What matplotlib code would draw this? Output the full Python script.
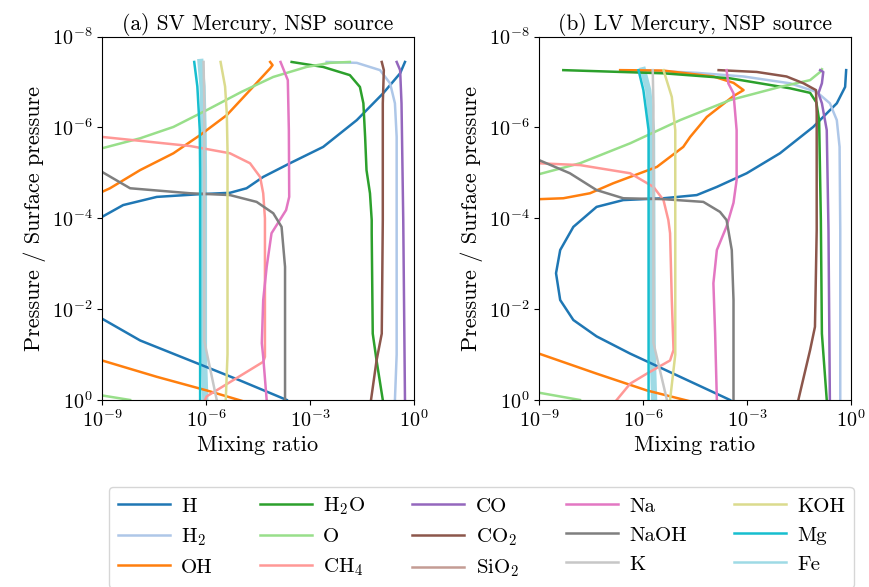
import numpy as np
import matplotlib
matplotlib.use('Agg')
import matplotlib.pyplot as plt
import matplotlib.ticker as ticker

plt.rcParams['font.family'] = 'cmr10'
plt.rcParams['mathtext.fontset'] = 'cm'
plt.rcParams['axes.formatter.use_mathtext'] = True
plt.rcParams['font.size'] = 14

# (log10 mixing ratio, log10 pressure); None = gap
SV_H = [(-3.67, 0.0), (-5.02, -0.43), (-6.46, -0.87), (-7.90, -1.31), (-9.0, -1.79), None,
        (-9.0, -4.03), (-8.39, -4.29), (-7.42, -4.47), (-6.17, -4.53), (-5.31, -4.56),
        (-4.83, -4.66), (-4.35, -4.91), (-3.58, -5.21), (-2.62, -5.57), (-1.65, -6.16),
        (-0.89, -6.75), (-0.40, -7.19), (-0.26, -7.44)]
SV_H2 = [(-2.52, -7.44), (-1.65, -7.42), (-0.98, -7.26), (-0.69, -6.97), (-0.55, -6.53),
         (-0.50, -5.79), (-0.50, -1.0), (-0.55, 0.0)]
SV_OH = [(-4.15, -7.44), (-4.08, -7.37), (-4.15, -7.30), (-4.73, -6.82), (-5.40, -6.27),
         (-6.17, -5.83), (-6.94, -5.43), (-7.90, -5.06), (-8.77, -4.66), (-9.0, -4.58), None,
         (-9.0, -0.87), (-7.42, -0.51), (-5.98, -0.21), (-4.92, 0.03)]
SV_H2O = [(-3.53, -7.44), (-2.62, -7.33), (-1.85, -7.15), (-1.56, -6.89), (-1.46, -6.53),
          (-1.41, -5.79), (-1.37, -5.06), (-1.27, -4.55), (-1.22, -3.96), (-1.22, -3.67),
          (-1.19, -1.46), (-1.08, -0.87), (-0.90, 0.0)]
SV_O = [(-1.85, -7.44), (-2.42, -7.42), (-3.10, -7.33), (-4.06, -7.11), (-4.98, -6.78),
        (-5.98, -6.38), (-6.94, -6.01), (-7.90, -5.76), (-9.0, -5.54), None,
        (-9.0, -0.10), (-8.19, 0.0)]
SV_CH4 = [(-9.0, -5.79), (-6.46, -5.59), (-5.31, -5.43), (-4.73, -5.21), (-4.44, -4.91),
          (-4.35, -4.55), (-4.30, -4.0), (-4.30, -0.95), (-4.35, -0.84), (-5.98, -0.08),
          (-6.03, 0.0)]
SV_CO = [(-0.50, -7.44), (-0.40, -7.26), (-0.36, -6.53), (-0.31, -3.96), (-0.26, 0.0)]
SV_CO2 = [(-0.93, -7.44), (-0.87, -7.26), (-0.90, -6.53), (-0.90, -3.96), (-0.93, -1.46),
          (-1.08, -0.87), (-1.24, 0.0)]
SV_SiO2 = []
SV_Na = [(-3.85, -7.44), (-3.64, -7.04), (-3.61, -5.94), (-3.60, -4.47), (-3.69, -4.18),
         (-4.11, -3.67), (-4.25, -2.93), (-4.35, -2.20), (-4.39, -1.25), (-4.35, -0.95),
         (-4.25, 0.0)]
SV_NaOH = [(-9.0, -5.02), (-8.19, -4.66), (-6.46, -4.55), (-5.31, -4.51), (-4.54, -4.36),
           (-4.06, -4.11), (-3.82, -3.81), (-3.72, -2.93), (-3.72, 0.0)]
SV_K = [(-6.07, -7.44), (-6.05, -6.5), (-6.05, -1.3), (-5.69, 0.0)]
SV_KOH = [(-5.58, -7.44), (-5.45, -6.9), (-5.40, -6.3), (-5.38, -5.5), (-5.38, -1.0),
          (-5.43, 0.0)]
SV_Mg = [(-6.34, -7.44), (-6.25, -6.9), (-6.18, -5.94), (-6.17, -5.0), (-6.17, 0.0)]
SV_Fe = [(-6.16, -7.44), (-6.10, -6.9), (-6.07, -5.94), (-6.06, -5.0), (-6.06, -1.0),
         (-6.02, 0.0)]

LV_H = [(-3.49, 0.0), (-4.93, -0.51), (-6.37, -1.02), (-7.34, -1.40), (-8.01, -1.76),
        (-8.39, -2.20), (-8.51, -2.79), (-8.39, -3.30), (-8.01, -3.81), (-7.34, -4.25),
        (-6.57, -4.40), (-5.41, -4.44), (-4.45, -4.51), (-3.87, -4.69), (-3.01, -4.99),
        (-2.05, -5.43), (-1.09, -6.01), (-0.41, -6.53), (-0.17, -6.89), (-0.14, -7.26)]
LV_H2 = [(-6.08, -7.26), (-4.45, -7.20), (-3.10, -7.12), (-1.76, -6.97), (-0.99, -6.78),
         (-0.61, -6.53), (-0.41, -6.16), (-0.33, -5.57), (-0.31, -3.74), (-0.31, 0.0)]
LV_OH = [(-6.66, -7.26), (-5.41, -7.25), (-3.97, -7.12), (-3.39, -6.98), (-3.10, -6.82),
         (-3.39, -6.69), (-4.16, -6.23), (-4.64, -5.79), (-4.84, -5.57), (-5.60, -5.13),
         (-6.86, -4.77), (-7.53, -4.55), (-8.30, -4.44), (-9.0, -4.42), None,
         (-9.0, -1.02), (-7.34, -0.58), (-5.89, -0.21), (-4.64, 0.03)]
LV_H2O = [(-8.30, -7.26), (-5.41, -7.19), (-3.49, -7.08), (-1.76, -6.86), (-1.18, -6.76),
          (-1.0, -6.55), (-0.92, -6.16), (-0.87, -3.96), (-0.84, -1.46), (-0.70, 0.0)]
LV_O = [(-9.0, -4.97), (-7.82, -5.21), (-6.37, -5.65), (-4.93, -6.16), (-3.49, -6.60),
        (-2.05, -6.89), (-1.18, -7.04), (-0.89, -7.22), (-0.84, -7.28), None,
        (-9.0, -0.16), (-7.82, 0.0)]
LV_CH4 = [(-9.0, -5.21), (-7.82, -5.17), (-6.37, -4.99), (-5.70, -4.69), (-5.41, -4.40),
          (-5.27, -3.96), (-5.22, -3.67), (-5.17, -2.20), (-5.12, -1.10), (-5.22, -0.87),
          (-5.89, -0.58), (-6.37, -0.36), (-6.76, 0.0)]
LV_CO = [(-0.89, -7.26), (-0.80, -7.22), (-0.84, -6.97), (-0.94, -6.75), (-0.84, -6.53),
         (-0.70, -5.94), (-0.65, -3.74), (-0.61, 0.0)]
LV_CO2 = [(-3.82, -7.26), (-2.72, -7.22), (-1.86, -7.12), (-1.37, -6.97), (-1.01, -6.82),
          (-0.99, -6.31), (-0.99, -3.74), (-1.04, -1.61), (-1.18, -1.10), (-1.52, 0.0)]
LV_SiO2 = []
LV_Na = [(-3.59, -7.26), (-3.54, -6.97), (-3.39, -6.75), (-3.30, -5.94), (-3.30, -4.84),
         (-3.39, -4.34), (-3.59, -3.82), (-3.87, -3.30), (-3.97, -2.57), (-3.92, -1.46),
         (-3.87, 0.0)]
LV_NaOH = [(-9.0, -5.28), (-8.11, -4.99), (-7.34, -4.62), (-6.57, -4.44), (-5.41, -4.42),
           (-4.26, -4.36), (-3.78, -4.14), (-3.59, -3.96), (-3.44, -3.30), (-3.39, -2.20),
           (-3.39, 0.0)]
LV_K = [(-5.72, -7.26), (-5.70, -6.5), (-5.70, -1.26), (-5.31, 0.0)]
LV_KOH = [(-5.41, -7.26), (-5.17, -6.67), (-5.07, -5.94), (-5.07, -1.0), (-5.22, 0.0)]
LV_Mg = [(-6.13, -7.26), (-5.99, -6.82), (-5.84, -5.94), (-5.84, 0.0)]
LV_Fe = [(-6.0, -7.26), (-5.85, -6.82), (-5.74, -5.94), (-5.72, -1.0), (-5.68, 0.0)]

LABELS = ['H', 'H$_2$', 'OH', 'H$_2$O', 'O', 'CH$_4$', 'CO', 'CO$_2$', 'SiO$_2$',
          'Na', 'NaOH', 'K', 'KOH', 'Mg', 'Fe']
COLORS = ['#1f77b4', '#aec7e8', '#ff7f0e', '#2ca02c', '#98df8a', '#ff9896', '#9467bd',
          '#8c564b', '#c49c94', '#e377c2', '#7f7f7f', '#c7c7c7', '#dbdb8d', '#17becf',
          '#9edae5']
SV = [SV_H, SV_H2, SV_OH, SV_H2O, SV_O, SV_CH4, SV_CO, SV_CO2, SV_SiO2, SV_Na,
      SV_NaOH, SV_K, SV_KOH, SV_Mg, SV_Fe]
LV = [LV_H, LV_H2, LV_OH, LV_H2O, LV_O, LV_CH4, LV_CO, LV_CO2, LV_SiO2, LV_Na,
      LV_NaOH, LV_K, LV_KOH, LV_Mg, LV_Fe]
TITLES = ['(a) SV Mercury, NSP source', '(b) LV Mercury, NSP source']


def to_xy(pts):
    x = np.array([np.nan if p is None else 10.0 ** p[0] for p in pts])
    y = np.array([np.nan if p is None else 10.0 ** p[1] for p in pts])
    return x, y


fig = plt.figure(figsize=(8.69, 5.87), dpi=100)
ax_a = fig.add_axes([0.1174, 0.3186, 0.359, 0.6192])
ax_b = fig.add_axes([0.6203, 0.3186, 0.359, 0.6192])

handles = []
for ax, data, title in zip([ax_a, ax_b], [SV, LV], TITLES):
    for i, pts in enumerate(data):
        x, y = to_xy(pts)
        lw = 4.5 if LABELS[i] == 'Fe' else 1.8
        z = 1.9 if LABELS[i] == 'Fe' else 2
        line, = ax.plot(x, y, color=COLORS[i], lw=lw, zorder=z, label=LABELS[i])
        if ax is ax_a:
            handles.append(line)
    ax.set_xscale('log')
    ax.set_yscale('log')
    ax.set_xlim(1e-9, 1)
    ax.set_ylim(1, 1e-8)
    ax.xaxis.set_major_locator(ticker.FixedLocator([1e-9, 1e-6, 1e-3, 1]))
    ax.yaxis.set_major_locator(ticker.FixedLocator([1, 1e-2, 1e-4, 1e-6, 1e-8]))
    ax.xaxis.set_minor_locator(ticker.NullLocator())
    ax.yaxis.set_minor_locator(ticker.NullLocator())
    ax.tick_params(labelsize=14.5)
    ax.set_xlabel('Mixing ratio', fontsize=16, labelpad=3)
    ax.set_ylabel('Pressure / Surface pressure', fontsize=16, labelpad=4)
    ax.set_title(title, fontsize=15.5, pad=5)

leg = fig.legend(handles, LABELS, loc='upper center', bbox_to_anchor=(0.554, 0.170),
                 ncol=5, handlelength=2.5, handletextpad=0.55, columnspacing=2.25,
                 fontsize=15, borderaxespad=0)
for lh in leg.get_lines():
    lh.set_linewidth(1.8)

fig.savefig('out.png', dpi=100)
